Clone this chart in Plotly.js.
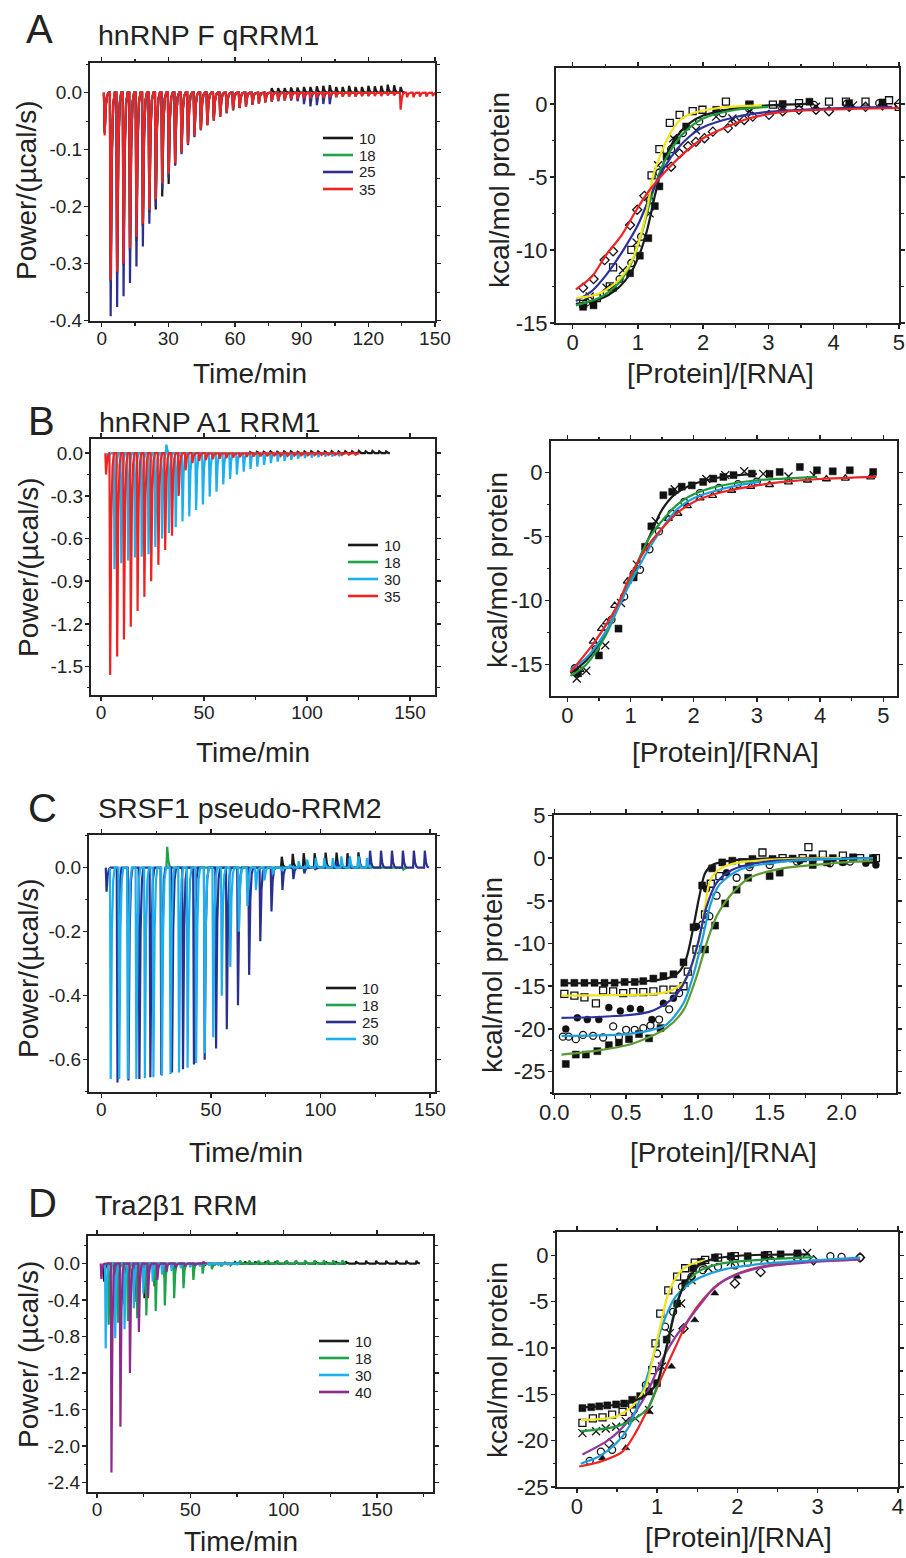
<!DOCTYPE html>
<html><head><meta charset="utf-8">
<script src="https://cdn.plot.ly/plotly-3.0.1.min.js"></script>
<style>html,body{margin:0;padding:0;background:#fff}</style>
</head><body><div id="chart" style="width:906px;height:1558px"></div>
<script>
// ================= DATA =================
// ---- Panel A (hnRNP F qRRM1) thermograms: injection times (min) and peak power (µcal/s)
const A_time = [1.0,3.7,6.6,9.5,12.4,15.3,18.2,21.1,24.0,26.9,29.8,32.7,35.6,38.5,41.4,44.3,47.2,50.1,53.0,55.9,58.8,61.7,64.6,67.5,70.4,73.3,76.2,79.1,82.0,84.9,87.8,90.7,93.6,96.5,99.4,102.3,105.2,108.1,111.0,113.9,116.8,119.7,122.6,125.5,128.4,131.3,134.2,137.1,140.0,142.9,145.8,148.7];
const A_p10 = [-0.07,-0.33,-0.315,-0.30,-0.275,-0.255,-0.232,-0.21,-0.205,-0.182,-0.160,-0.127,-0.104,-0.088,-0.074,-0.062,-0.052,-0.044,-0.037,-0.031,-0.026,-0.022,-0.018,-0.015,-0.012,-0.010,0.008,0.008,0.008,0.009,0.009,0.010,0.010,0.011,0.012,0.013,0.010,0.010,0.012,0.010,0.010,0.012,0.011,0.012,0.014,0.013,0.010];
const A_p18 = [-0.07,-0.33,-0.318,-0.303,-0.28,-0.26,-0.235,-0.21,-0.191,-0.165,-0.145,-0.125,-0.105,-0.09,-0.077,-0.066,-0.057,-0.049,-0.042,-0.036,-0.031,-0.027,-0.024,-0.021,-0.019,-0.017,-0.015,-0.014,-0.013,-0.012,-0.011,-0.010,-0.010,-0.009,-0.009,-0.008,-0.008,-0.007,-0.007,-0.007,-0.006,-0.006];
const A_p25 = [-0.07,-0.392,-0.376,-0.357,-0.334,-0.305,-0.270,-0.230,-0.200,-0.170,-0.150,-0.128,-0.108,-0.092,-0.078,-0.066,-0.057,-0.049,-0.042,-0.036,-0.031,-0.027,-0.024,-0.021,-0.019,-0.017,-0.016,-0.015,-0.014,-0.014,-0.015,-0.020,-0.024,-0.022,-0.020,-0.020];
const A_p35 = [-0.075,-0.329,-0.314,-0.300,-0.273,-0.253,-0.230,-0.206,-0.187,-0.159,-0.142,-0.124,-0.104,-0.090,-0.076,-0.065,-0.057,-0.049,-0.042,-0.036,-0.030,-0.027,-0.024,-0.021,-0.019,-0.017,-0.015,-0.014,-0.013,-0.012,-0.011,-0.010,-0.010,-0.009,-0.009,-0.008,-0.008,-0.007,-0.007,-0.007,-0.006,-0.006,-0.006,-0.006,-0.005,-0.005,-0.030,-0.008,-0.008,-0.007,-0.007,-0.006];
const A_names = ['10','18','25','35'];

// ---- Panel A binding isotherms
const Ar_sqOpen_x = [0.16,0.37,0.57,0.62,0.9,1.21,1.33,1.49,1.64,1.84,1.99,2.35,2.71,3.07,3.47,3.93,4.19,4.49,4.85,5.0];
const Ar_sqOpen_y = [-13.7,-13.3,-12.5,-11.2,-10.0,-4.9,-3.1,-1.3,-0.75,-0.5,-0.4,0.15,-0.05,-0.05,0.05,0.15,0.15,0.15,0.25,-0.2];
const Ar_sq_x = [0.16,0.32,0.62,0.88,1.03,1.16,1.26,1.33,1.44,1.59,1.74,2.2,2.71,3.22,3.63,4.24,4.75];
const Ar_sq_y = [-13.9,-13.8,-12.6,-11.6,-10.4,-9.2,-7.0,-5.65,-3.6,-2.5,-1.55,-0.4,-0.07,0,0.15,0.05,0.1];
const Ar_x_x = [0.26,0.52,0.77,0.98,1.18,1.31,1.54,1.89,2.2,2.45,2.71,3.22,3.73,4.3];
const Ar_x_y = [-13.2,-12.6,-11.4,-9.5,-7.5,-4.2,-2.35,-1.8,-0.87,-1.0,-0.5,-0.3,-0.2,-0.1];
const Ar_ci_x = [0.21,0.52,0.72,0.9,1.05,1.18,1.33,1.51,1.69,1.94,2.3,2.7,3.2,3.7,4.2,4.7];
const Ar_ci_y = [-13.6,-12.9,-12.0,-10.9,-9.1,-6.6,-4.7,-3.1,-2.0,-1.2,-0.64,-0.3,-0.2,-0.07,0,0.05];
const Ar_di_x = [0.16,0.32,0.49,0.62,0.88,0.99,1.10,1.51,1.64,1.77,1.89,2.02,2.15,2.38,2.5,2.63,2.76,3.01,3.22,3.47,3.73,3.93,4.24,4.49,4.75,5.0];
const Ar_di_y = [-12.6,-12.0,-10.7,-10.1,-8.3,-7.25,-6.3,-4.3,-3.4,-2.9,-2.6,-2.35,-1.9,-1.66,-1.2,-1.1,-0.87,-0.75,-0.5,-0.4,-0.4,-0.5,-0.2,-0.2,-0.1,0];
const Ar_fitRed_x = [0.05,0.3,0.52,0.75,0.98,1.18,1.49,1.75,2.0,2.35,2.7,3.22,4.0,5.0];
const Ar_fitRed_y = [-12.7,-11.8,-10.3,-9.0,-7.25,-5.9,-4.3,-3.2,-2.35,-1.6,-1.0,-0.55,-0.38,-0.28];
const Ar_fitYel_x = [0.05,0.4,0.7,0.9,1.05,1.15,1.23,1.31,1.39,1.5,1.6,1.75,2.0,2.4,2.9];
const Ar_fitYel_y = [-13.3,-13.0,-12.1,-10.8,-8.9,-7.0,-5.0,-3.9,-3.0,-2.0,-1.3,-0.8,-0.45,-0.2,-0.1];
const Ar_fitGrn_x = [0.05,0.4,0.7,0.9,1.05,1.2,1.35,1.5,1.7,2.0,2.5,3.0];
const Ar_fitGrn_y = [-13.8,-13.3,-12.3,-10.9,-9.0,-6.5,-4.5,-3.2,-2.0,-1.0,-0.4,-0.2];
const Ar_fitBlu_x = [0.05,0.3,0.5,0.75,1.0,1.2,1.4,1.6,1.8,2.0,2.5,3.0,4.0,4.9];
const Ar_fitBlu_y = [-13.5,-12.8,-11.8,-10.2,-8.3,-6.2,-4.4,-3.1,-2.2,-1.6,-0.9,-0.55,-0.3,-0.2];
const Ar_fitBlk_x = [0.05,0.4,0.7,0.9,1.05,1.15,1.25,1.35,1.45,1.6,1.8,2.0,2.5,3.0,3.6];
const Ar_fitBlk_y = [-13.7,-13.4,-12.6,-11.5,-10.0,-8.5,-6.5,-4.7,-3.4,-2.2,-1.3,-0.8,-0.3,-0.1,0];

// ---- Panel B (hnRNP A1 RRM1) thermograms
const B_time35 = [2.1,4.1,7.5,10.8,14.1,17.4,20.7,24.0,27.5,30.8,34.1,37.4,40.7,44.0,47.3,50.6,53.9,57.2,60.5,63.8,67.1,70.4,73.7,77.0,80.3,83.6,86.9,90.2,93.5,96.8,100.1,103.4,106.7,110.0,113.3,116.6,119.9,123.2];
const B_p35 = [-0.15,-1.56,-1.43,-1.31,-1.22,-1.11,-1.01,-0.90,-0.785,-0.68,-0.58,-0.30,-0.12,-0.07,-0.055,-0.048,-0.042,-0.038,-0.034,-0.031,-0.028,-0.026,-0.024,-0.022,-0.020,-0.019,-0.018,-0.017,-0.016,-0.015,-0.014,-0.013,-0.012,-0.012,-0.011,-0.011,-0.010,-0.010];
const B_time30 = [3.0,6.2,9.5,12.8,16.1,19.4,22.7,26.0,29.3,31.4,32.6,35.9,39.2,42.5,45.8,49.1,52.4,55.7,59.0,62.3,65.6,68.9,72.2,75.5,78.8,82.1,85.4,88.7,92.0,95.3,98.6,101.9,105.2,108.5,111.8,115.1];
const B_p30 = [-0.06,-0.815,-0.773,-0.755,-0.733,-0.727,-0.71,-0.66,-0.60,0.06,-0.56,-0.52,-0.48,-0.445,-0.40,-0.36,-0.305,-0.27,-0.22,-0.18,-0.15,-0.13,-0.11,-0.094,-0.082,-0.07,-0.059,-0.054,-0.047,-0.04,-0.035,-0.03,-0.028,-0.023,-0.021,-0.019];
const B_time10 = [72.0,75.3,78.6,81.9,85.2,88.5,91.8,95.1,98.4,101.7,105.0,108.3,111.6,114.9,118.2,121.5,124.8,128.1,131.4,134.7,138.0];
const B_p10 = [0.008,0.01,0.01,0.012,0.01,0.012,0.012,0.01,0.012,0.014,0.012,0.012,0.014,0.012,0.014,0.014,0.016,0.014,0.016,0.014,0.012];
const B_names = ['10','18','30','35'];

// ---- Panel B binding isotherms
const Br_sq_x = [0.17,0.5,0.81,1.05,1.23,1.33,1.52,1.66,1.81,1.97,2.15,2.31,2.47,2.63,2.92,3.2,3.36,3.68,3.95,4.2,4.47,4.84];
const Br_sq_y = [-15.7,-14.3,-12.2,-8.2,-5.8,-4.2,-1.77,-1.5,-1.1,-1.0,-0.73,-0.47,-0.34,-0.2,-0.08,-0.1,0.05,0.44,0.18,0.1,0.18,0.05];
const Br_tri_x = [0.2,0.41,0.54,0.62,0.75,0.95,1.6,1.75,1.9,2.1,2.3,2.6,2.9,3.2,3.5,3.8,4.1,4.4,4.8];
const Br_tri_y = [-15.4,-13.2,-12.2,-11.7,-10.4,-8.5,-3.6,-3.2,-2.6,-2.0,-1.8,-1.4,-1.1,-0.95,-0.75,-0.6,-0.5,-0.45,-0.35];
const Br_ci_x = [0.12,0.45,0.7,0.9,1.05,1.15,1.3,1.45,1.65,1.85,2.1,2.4,2.7,3.0];
const Br_ci_y = [-15.3,-13.8,-11.5,-9.7,-7.9,-7.6,-6.0,-4.6,-3.2,-2.3,-1.6,-1.2,-0.9,-0.7];
const Br_x_x = [0.15,0.3,0.6,0.85,1.1,1.4,1.7,2.2,2.5,2.8,3.1,3.5,3.9];
const Br_x_y = [-16.1,-15.5,-13.5,-10.2,-7.2,-3.8,-1.3,-0.5,-0.2,0.1,-0.1,-0.3,-0.2];
const Br_fitBlk_x = [0.05,0.3,0.6,0.9,1.1,1.3,1.5,1.7,1.9,2.2,2.6,3.0];
const Br_fitBlk_y = [-15.7,-14.7,-12.6,-9.4,-7.2,-5.0,-2.9,-1.7,-1.1,-0.6,-0.25,-0.1];
const Br_fitGrn_x = [0.05,0.3,0.6,0.99,1.31,1.73,2.0,2.36,3.0,3.42,3.95];
const Br_fitGrn_y = [-15.9,-15.0,-12.8,-8.4,-5.0,-2.55,-1.7,-1.1,-0.6,-0.47,-0.34];
const Br_fitCyn_x = [0.05,0.3,0.6,0.99,1.31,1.73,2.0,2.36,2.7,3.05];
const Br_fitCyn_y = [-15.4,-14.5,-12.5,-8.7,-5.8,-2.9,-2.0,-1.4,-1.0,-0.73];
const Br_fitRed_x = [0.05,0.41,0.78,0.99,1.31,1.73,2.0,2.36,3.0,3.42,4.0,4.89];
const Br_fitRed_y = [-15.6,-13.4,-10.5,-8.15,-5.5,-3.2,-2.3,-1.64,-1.0,-0.73,-0.5,-0.34];

// ---- Panel C (SRSF1 pseudo-RRM2) thermograms
const C_time25 = [2.0,7.0,12.0,17.0,22.0,27.0,31.9,36.9,41.9,46.8,52.0,56.9,62.0,67.1,72.2,77.3,82.3,87.3,92.3,97.3,102.3,107.3,112.3,117.3,122.3,127.3,132.3,137.3,142.3,147.3];
const C_p25 = [-0.075,-0.671,-0.665,-0.66,-0.655,-0.648,-0.64,-0.63,-0.615,-0.60,-0.565,-0.505,-0.43,-0.335,-0.23,-0.137,-0.07,-0.036,-0.018,-0.005,0.01,0.02,0.03,0.035,0.053,0.053,0.053,0.053,0.053,0.053];
const C_time30 = [3.9,7.8,11.7,15.6,19.5,23.4,27.3,31.2,35.1,39.0,42.9,46.8,50.7,54.6,58.5,62.4,66.3,70.2,74.1,78.0,81.9,85.8,89.7,93.6,97.5,101.4,105.3,109.2,113.1,117.0,120.9];
const C_p30 = [-0.66,-0.66,-0.66,-0.66,-0.658,-0.655,-0.65,-0.645,-0.64,-0.625,-0.61,-0.58,-0.53,-0.40,-0.31,-0.2,-0.12,-0.07,-0.04,-0.02,-0.01,0.01,0.02,0.025,0.03,0.03,0.03,0.035,0.035,0.035,0.03];
const C_time10 = [82.0,87.0,92.0,97.0,102.0,107.0,112.0,117.0];
const C_p10 = [0.034,0.043,0.045,0.045,0.047,0.047,0.045,0.048];
const C_time18 = [29.7,137.5];
const C_p18 = [0.065,-0.006];
const C_names = ['10','18','25','30'];

// ---- Panel C binding isotherms
const Cr_sqT_x = [0.07,0.14,0.21,0.28,0.35,0.42,0.49,0.56,0.62,0.69,0.76,0.83,0.90,0.97,1.03,1.10,1.17,1.24,1.38,1.52,1.66,1.80,1.94,2.08,2.22];
const Cr_sqT_y = [-14.6,-14.6,-14.6,-14.6,-14.6,-14.6,-14.5,-14.5,-14.4,-14.1,-13.8,-13.6,-12.2,-8.1,-3.2,-1.2,-0.5,-0.3,-0.1,-0.1,-0.05,0,0,0.1,0];
const Cr_sqO_x = [0.07,0.14,0.21,0.29,0.34,0.41,0.48,0.55,0.62,0.69,0.76,0.83,0.90,0.93,0.99,1.05,1.09,1.15,1.31,1.45,1.59,1.73,1.77,1.87,2.01,2.13,2.24];
const Cr_sqO_y = [-15.9,-16.1,-16.3,-17.0,-15.5,-15.6,-15.8,-15.7,-15.7,-15.6,-15.4,-15.4,-15.0,-13.3,-10.7,-6.6,-3.0,-2.1,-0.5,0.66,0,0,1.3,0.4,0.3,0,0];
const Cr_ciF_x = [0.08,0.16,0.23,0.31,0.38,0.46,0.53,0.60,0.68,0.76,0.83,0.99,1.06,1.20,1.36,1.50,1.71,2.01,2.17,2.24];
const Cr_ciF_y = [-20.0,-18.7,-18.9,-18.9,-17.5,-17.9,-17.6,-17.7,-18.9,-17.0,-16.4,-8.0,-3.6,-1.7,-0.8,-0.4,-0.3,-0.5,-0.6,-0.8];
const Cr_ciO_x = [0.06,0.10,0.15,0.20,0.27,0.34,0.41,0.45,0.50,0.56,0.62,0.67,0.73,0.80,0.87,1.03,1.08,1.13,1.27,1.36,1.50,1.69,1.92,2.06];
const Cr_ciO_y = [-20.9,-20.9,-21.2,-20.7,-20.8,-21.0,-19.7,-20.9,-20.1,-20.1,-19.9,-19.6,-18.9,-17.7,-15.8,-7.8,-6.8,-4.4,-2.3,-1.05,-0.8,-0.4,-0.6,-0.4];
const Cr_sqB_x = [0.08,0.15,0.22,0.30,0.38,0.45,0.52,0.59,0.66,0.74,1.05,1.12,1.19,1.27,1.35,1.50,1.57,1.80,1.90,2.01,2.22];
const Cr_sqB_y = [-24.1,-23.0,-23.0,-22.6,-21.9,-21.6,-21.2,-20.6,-21.1,-19.9,-10.7,-7.9,-5.3,-3.7,-2.3,-2.1,-1.7,-0.8,-0.5,-0.4,-0.2];
const Cr_fitBlk_x = [0.05,0.4,0.7,0.8,0.87,0.92,0.965,1.01,1.05,1.1,1.24,1.6,2.2];
const Cr_fitBlk_y = [-14.65,-14.6,-14.3,-14.0,-13.3,-11.7,-8.4,-4.5,-1.76,-0.8,-0.27,0,0];
const Cr_fitYel_x = [0.05,0.4,0.7,0.8,0.9,0.965,1.01,1.05,1.08,1.13,1.24,1.48,2.0];
const Cr_fitYel_y = [-16.1,-16.05,-15.9,-15.6,-14.5,-12.3,-9.6,-5.7,-2.9,-1.56,-0.66,-0.2,0];
const Cr_fitNav_x = [0.05,0.3,0.5,0.66,0.78,0.85,0.94,1.0,1.06,1.13,1.24,1.48,2.0];
const Cr_fitNav_y = [-18.7,-18.6,-18.4,-18.0,-17.0,-16.0,-13.3,-10.0,-5.7,-2.9,-1.37,-0.4,-0.1];
const Cr_fitCyn_x = [0.05,0.3,0.5,0.66,0.78,0.9,0.965,1.03,1.09,1.15,1.29,1.59,2.22];
const Cr_fitCyn_y = [-20.8,-20.75,-20.6,-20.2,-19.5,-17.0,-13.9,-9.6,-5.3,-3.1,-1.37,-0.4,0];
const Cr_fitOlv_x = [0.05,0.31,0.55,0.78,0.9,0.99,1.06,1.13,1.22,1.36,1.59,1.94,2.22];
const Cr_fitOlv_y = [-23.0,-22.5,-21.7,-19.9,-17.8,-13.9,-10.0,-6.8,-4.5,-2.3,-1.2,-0.6,-0.3];

// ---- Panel D (Tra2β1 RRM) thermograms
const D_time10 = [3.5,8.9,14.3,19.7,25.1,30.5,35.9,41.3,46.7,52.1,57.5,62.9,68.3,73.7,79.1,84.5,89.9,95.3,100.7,106.1,111.5,116.9,122.3,127.7,133.1,138.5,143.9,149.3,154.7,160.1,165.5,170.9];
const D_p10 = [-0.2,-0.45,-0.45,-0.42,-0.38,-0.25,-0.15,-0.09,-0.05,-0.03,-0.02,-0.01,0.01,0.015,0.02,0.02,0.02,0.02,0.02,0.02,0.02,0.02,0.02,0.025,0.025,0.025,0.03,0.03,0.03,0.03,0.03,0.03];
const D_time18 = [5.9,11.0,16.2,21.2,26.1,31.1,36.0,41.0,46.0,51.3,56.3,61.2,66.2,71.2,76.2,81.2,86.2,91.2,96.2,101.2,106.2,111.2,116.2,121.2,126.2,131.2];
const D_p18 = [-0.67,-0.65,-0.63,-0.60,-0.57,-0.52,-0.46,-0.38,-0.27,-0.18,-0.11,-0.06,-0.03,-0.02,0.03,0.03,0.03,0.035,0.035,0.035,0.035,0.035,0.035,0.035,0.035,0.035];
const D_time30 = [4.3,9.4,14.4,19.4,24.5,29.5,34.5,39.6,44.6,49.6,54.7,59.7,64.7,69.8,74.8];
const D_p30 = [-0.93,-0.82,-0.72,-0.49,-0.33,-0.2,-0.12,-0.08,-0.05,-0.04,-0.03,-0.02,-0.015,-0.01,-0.01];
const D_time40 = [2.0,7.4,12.2,17.3,22.1,27.0,32.0,36.9,41.9,46.8,51.8,56.7];
const D_p40 = [-0.17,-2.29,-1.79,-1.20,-0.75,-0.38,-0.18,-0.09,-0.05,-0.03,-0.02,0.02];
const D_names = ['10','18','30','40'];

// ---- Panel D binding isotherms
const Dr_sq_x = [0.07,0.18,0.28,0.38,0.49,0.59,0.69,0.79,0.9,1.0,1.12,1.25,1.35,1.45,1.55,1.72,1.92,2.13,2.34,2.54,2.75];
const Dr_sq_y = [-16.5,-16.4,-16.3,-16.2,-16.1,-16.0,-15.6,-15.2,-14.7,-13.8,-9.1,-5.2,-3.0,-1.4,-0.7,-0.25,-0.1,-0.1,0,0.1,0.2];
const Dr_sqO_x = [0.07,0.2,0.32,0.44,0.57,0.69,0.94,0.98,1.04,1.14,1.25,1.35,1.47,1.6,1.76,1.97,2.38];
const Dr_sqO_y = [-18.1,-17.6,-17.5,-17.2,-16.9,-16.1,-12.4,-9.5,-6.3,-3.8,-2.3,-1.4,-0.8,-0.5,-0.25,-0.1,0];
const Dr_x_x = [0.07,0.24,0.36,0.49,0.61,0.73,0.9,1.06,1.16,1.3,1.43,1.64,1.92,2.34,2.75,2.87];
const Dr_x_y = [-19.2,-19.0,-18.7,-18.5,-17.9,-17.6,-16.7,-12.0,-8.4,-5.2,-2.7,-1.4,-0.7,-0.36,-0.1,0.25];
const Dr_ci_x = [0.16,0.3,0.44,0.57,0.71,0.86,1.0,1.1,1.2,1.31,1.43,1.57,1.76,1.97,2.13,2.42,2.75,3.16,3.3,3.53];
const Dr_ci_y = [-22.2,-21.2,-21.0,-19.4,-16.7,-14.0,-10.6,-7.7,-6.1,-3.4,-2.3,-1.6,-1.25,-1.1,-0.8,-0.54,-0.29,-0.1,-0.18,-0.25];
const Dr_tri_x = [0.32,0.61,0.9,1.18,1.47,1.72,2.0];
const Dr_tri_y = [-21.9,-20.8,-16.9,-12.0,-7.0,-4.1,-2.3];
const Dr_di_x = [0.4,1.33,1.97,2.29,2.95,3.53];
const Dr_di_y = [-20.3,-7.9,-3.05,-1.8,-0.54,-0.25];
const Dr_fitBlk_x = [0.05,0.3,0.6,0.8,0.9,1.0,1.06,1.14,1.25,1.35,1.45,1.55,1.72,2.13,2.9];
const Dr_fitBlk_y = [-16.4,-16.3,-16.0,-15.4,-14.8,-13.8,-12.0,-9.1,-5.2,-3.0,-1.8,-0.9,-0.36,0,0.1];
const Dr_fitYel_x = [0.05,0.49,0.69,0.86,0.96,1.04,1.14,1.27,1.39,1.6];
const Dr_fitYel_y = [-17.8,-17.4,-16.3,-14.2,-10.6,-7.7,-4.1,-2.0,-1.1,-0.54];
const Dr_fitGrn_x = [0.05,0.49,0.73,0.9,1.02,1.14,1.23,1.35,1.55,1.8,2.54,2.95];
const Dr_fitGrn_y = [-19.0,-18.5,-17.6,-16.3,-13.5,-9.1,-5.6,-3.05,-1.6,-0.9,-0.36,-0.2];
const Dr_fitCyn_x = [0.05,0.28,0.49,0.65,0.81,0.94,1.06,1.23,1.47,1.8,2.34,2.95,3.53];
const Dr_fitCyn_y = [-22.5,-21.7,-20.3,-18.5,-14.9,-11.3,-7.7,-4.5,-2.7,-1.6,-0.9,-0.54,-0.25];
const Dr_fitPur_x = [0.07,0.4,0.65,0.86,1.06,1.23,1.39,1.55,1.72,1.97,2.34,2.95,3.53];
const Dr_fitPur_y = [-21.5,-19.9,-17.8,-15.1,-11.3,-8.8,-7.0,-5.2,-3.4,-2.15,-1.26,-0.72,-0.47];
const Dr_fitRed_x = [0.03,0.32,0.57,0.73,0.9,1.06,1.23,1.39,1.6,1.84,2.13,2.54,3.53];
const Dr_fitRed_y = [-22.8,-22.2,-21.2,-19.2,-16.3,-13.1,-9.9,-7.0,-4.5,-2.7,-1.6,-0.9,-0.43];

// ---- tick labels
const tA_x = [0,30,60,90,120,150];
const tA_y = [0,-0.1,-0.2,-0.3,-0.4];  const tA_yText = ['0.0','-0.1','-0.2','-0.3','-0.4'];
const tB_x = [0,50,100,150];
const tB_y = [0,-0.3,-0.6,-0.9,-1.2,-1.5]; const tB_yText = ['0.0','-0.3','-0.6','-0.9','-1.2','-1.5'];
const tC_y = [0,-0.2,-0.4,-0.6]; const tC_yText = ['0.0','-0.2','-0.4','-0.6'];
const tD_y = [0,-0.4,-0.8,-1.2,-1.6,-2.0,-2.4]; const tD_yText = ['0.0','-0.4','-0.8','-1.2','-1.6','-2.0','-2.4'];
const tR_x5 = [0,1,2,3,4,5];
const tR_y15 = [0,-5,-10,-15]; const tR_y15Text = ['0','-5','-10','-15'];
const tC_rx = [0,0.5,1,1.5,2]; const tC_rxText = ['0.0','0.5','1.0','1.5','2.0'];
const tC_ry = [5,0,-5,-10,-15,-20,-25]; const tC_ryText = ['5','0','-5','-10','-15','-20','-25'];
const tD_rx = [0,1,2,3,4];
const tD_ry = [0,-5,-10,-15,-20,-25]; const tD_ryText = ['0','-5','-10','-15','-20','-25'];

// ================= DRAWING =================
const W = 906, H = 1558;
const FONT = 'Liberation Sans, Arial, Helvetica, sans-serif';
const INK = '#222';
const COL = {k:'#1a1a1a', g:'#1ea34b', b:'#2b3090', r:'#ee2424', c:'#1cb0ec', p:'#8e2a8e',
             fy:'#efe51a', fg:'#1e9b3c', fb:'#2a30a0', fr:'#ee2424', fc:'#1d9fdc', fo:'#5d9a31', fp:'#8e3a9e'};

function xd(l, r) { return [l / W, r / W]; }
function yd(t, b) { return [1 - b / H, 1 - t / H]; }

function axis(domain, range, vals, text, minorD, size, anchor, isY) {
  return {
    domain, range, anchor, tickmode: 'array', tickvals: vals, ticktext: text || vals.map(String),
    showline: true, linewidth: 2, linecolor: INK, mirror: 'allticks',
    ticks: 'outside', ticklen: 4, tickwidth: 1.5, tickcolor: INK,
    ticklabelstandoff: isY ? -2 : -5, ticklabeloverflow: 'allow',
    minor: {dtick: minorD, tick0: 0, ticks: 'outside', ticklen: 2.5, tickwidth: 1.2, tickcolor: INK},
    showgrid: false, zeroline: false, fixedrange: true,
    tickfont: {family: FONT, size, color: INK}
  };
}

function thermo(t, p, color, xa, ya) {
  const x = [], y = [];
  for (let i = 0; i < t.length; i++) {
    x.push(t[i], t[i] + 0.35, t[i] + 0.9, t[i] + 1.5, t[i] + 2.2);
    y.push(0, p[i], p[i] * 0.3, p[i] * 0.06, 0);
  }
  return {type: 'scatter', mode: 'lines', x, y, xaxis: xa, yaxis: ya, showlegend: false,
          line: {color, width: 2.2}, hoverinfo: 'skip'};
}
function pts(x, y, symbol, xa, ya) {
  const open = symbol.indexOf('open') >= 0;
  return {type: 'scatter', mode: 'markers', x, y, xaxis: xa, yaxis: ya, showlegend: false, hoverinfo: 'skip',
          marker: {symbol, size: symbol.indexOf('x') === 0 ? 8 : 7, color: '#111',
                   line: {color: '#111', width: open ? 1.3 : 0.5}}};
}
function fit(x, y, color, xa, ya) {
  return {type: 'scatter', mode: 'lines', x, y, xaxis: xa, yaxis: ya, showlegend: false, hoverinfo: 'skip',
          line: {color, width: 2.2, shape: 'spline', smoothing: 0.8}};
}

const traces = [
  // A left
  thermo(A_time.slice(0, A_p10.length), A_p10, COL.k, 'x', 'y'),
  thermo(A_time.slice(0, A_p18.length), A_p18, COL.g, 'x', 'y'),
  thermo(A_time.slice(0, A_p25.length), A_p25, COL.b, 'x', 'y'),
  thermo(A_time.slice(0, A_p35.length), A_p35, COL.r, 'x', 'y'),
  // A right
  pts(Ar_di_x, Ar_di_y, 'diamond-open', 'x2', 'y2'),
  pts(Ar_ci_x, Ar_ci_y, 'circle-open', 'x2', 'y2'),
  pts(Ar_x_x, Ar_x_y, 'x-thin-open', 'x2', 'y2'),
  pts(Ar_sq_x, Ar_sq_y, 'square', 'x2', 'y2'),
  pts(Ar_sqOpen_x, Ar_sqOpen_y, 'square-open', 'x2', 'y2'),
  fit(Ar_fitBlk_x, Ar_fitBlk_y, COL.k, 'x2', 'y2'),
  fit(Ar_fitGrn_x, Ar_fitGrn_y, COL.fg, 'x2', 'y2'),
  fit(Ar_fitBlu_x, Ar_fitBlu_y, COL.fb, 'x2', 'y2'),
  fit(Ar_fitYel_x, Ar_fitYel_y, COL.fy, 'x2', 'y2'),
  fit(Ar_fitRed_x, Ar_fitRed_y, COL.fr, 'x2', 'y2'),
  // B left
  thermo(B_time10, B_p10, COL.k, 'x3', 'y3'),
  thermo(B_time30, B_p30, COL.c, 'x3', 'y3'),
  thermo(B_time35, B_p35, COL.r, 'x3', 'y3'),
  // B right
  pts(Br_tri_x, Br_tri_y, 'triangle-up-open', 'x4', 'y4'),
  pts(Br_ci_x, Br_ci_y, 'circle-open', 'x4', 'y4'),
  pts(Br_x_x, Br_x_y, 'x-thin-open', 'x4', 'y4'),
  pts(Br_sq_x, Br_sq_y, 'square', 'x4', 'y4'),
  fit(Br_fitBlk_x, Br_fitBlk_y, COL.k, 'x4', 'y4'),
  fit(Br_fitGrn_x, Br_fitGrn_y, COL.fg, 'x4', 'y4'),
  fit(Br_fitCyn_x, Br_fitCyn_y, COL.fc, 'x4', 'y4'),
  fit(Br_fitRed_x, Br_fitRed_y, COL.fr, 'x4', 'y4'),
  // C left
  thermo(C_time10, C_p10, COL.k, 'x5', 'y5'),
  thermo(C_time18, C_p18, COL.g, 'x5', 'y5'),
  thermo(C_time25, C_p25, COL.b, 'x5', 'y5'),
  thermo(C_time30, C_p30, COL.c, 'x5', 'y5'),
  // C right
  pts(Cr_sqT_x, Cr_sqT_y, 'square', 'x6', 'y6'),
  pts(Cr_sqO_x, Cr_sqO_y, 'square-open', 'x6', 'y6'),
  pts(Cr_ciF_x, Cr_ciF_y, 'circle', 'x6', 'y6'),
  pts(Cr_ciO_x, Cr_ciO_y, 'circle-open', 'x6', 'y6'),
  pts(Cr_sqB_x, Cr_sqB_y, 'square', 'x6', 'y6'),
  fit(Cr_fitBlk_x, Cr_fitBlk_y, COL.k, 'x6', 'y6'),
  fit(Cr_fitYel_x, Cr_fitYel_y, COL.fy, 'x6', 'y6'),
  fit(Cr_fitNav_x, Cr_fitNav_y, COL.fb, 'x6', 'y6'),
  fit(Cr_fitCyn_x, Cr_fitCyn_y, COL.fc, 'x6', 'y6'),
  fit(Cr_fitOlv_x, Cr_fitOlv_y, COL.fo, 'x6', 'y6'),
  // D left
  thermo(D_time10, D_p10, COL.k, 'x7', 'y7'),
  thermo(D_time18, D_p18, COL.g, 'x7', 'y7'),
  thermo(D_time30, D_p30, COL.c, 'x7', 'y7'),
  thermo(D_time40, D_p40, COL.p, 'x7', 'y7'),
  // D right
  pts(Dr_sq_x, Dr_sq_y, 'square', 'x8', 'y8'),
  pts(Dr_sqO_x, Dr_sqO_y, 'square-open', 'x8', 'y8'),
  pts(Dr_x_x, Dr_x_y, 'x-thin-open', 'x8', 'y8'),
  pts(Dr_ci_x, Dr_ci_y, 'circle-open', 'x8', 'y8'),
  pts(Dr_tri_x, Dr_tri_y, 'triangle-up', 'x8', 'y8'),
  pts(Dr_di_x, Dr_di_y, 'diamond-open', 'x8', 'y8'),
  fit(Dr_fitRed_x, Dr_fitRed_y, COL.fr, 'x8', 'y8'),
  fit(Dr_fitPur_x, Dr_fitPur_y, COL.fp, 'x8', 'y8'),
  fit(Dr_fitCyn_x, Dr_fitCyn_y, COL.fc, 'x8', 'y8'),
  fit(Dr_fitGrn_x, Dr_fitGrn_y, COL.fg, 'x8', 'y8'),
  fit(Dr_fitYel_x, Dr_fitYel_y, COL.fy, 'x8', 'y8'),
  fit(Dr_fitBlk_x, Dr_fitBlk_y, COL.k, 'x8', 'y8')
];

const LS = 19, RS = 22;
function ann(text, xpx, ypx, size, angle, anchor) {
  return {text, x: xpx / W, y: 1 - ypx / H, xref: 'paper', yref: 'paper', showarrow: false,
          xanchor: anchor || 'center', yanchor: 'middle', textangle: angle || 0,
          font: {family: FONT, size, color: INK}};
}

// temperature legends (line sample + label), one per thermogram panel
const shapes = [], legendAnns = [];
function legendBlock(names, colors, xLine, yFirst, step) {
  names.forEach((nm, i) => {
    const yy = 1 - (yFirst + i * step) / H;
    shapes.push({type: 'line', xref: 'paper', yref: 'paper', x0: xLine / W, x1: (xLine + 30) / W, y0: yy, y1: yy,
                 line: {color: colors[i], width: 2.6}});
    legendAnns.push({text: nm, x: (xLine + 35) / W, y: yy, xref: 'paper', yref: 'paper', showarrow: false,
                     xanchor: 'left', yanchor: 'middle', borderpad: 0,
                     font: {family: FONT, size: 15, color: INK}});
  });
}
legendBlock(A_names, [COL.k, COL.g, COL.b, COL.r], 323, 138, 17);
legendBlock(B_names, [COL.k, COL.g, COL.c, COL.r], 348, 545, 17);
legendBlock(C_names, [COL.k, COL.g, COL.b, COL.c], 326, 988, 17);
legendBlock(D_names, [COL.k, COL.g, COL.c, COL.p], 319, 1341, 17);

const layout = {
  width: W, height: H, margin: {l: 0, r: 0, t: 0, b: 0},
  paper_bgcolor: '#fff', plot_bgcolor: 'rgba(0,0,0,0)', showlegend: false,
  font: {family: FONT, color: INK},
  xaxis:  axis(xd(90, 435),   [-5.25, 150.02], tA_x, null, 15, LS, 'y'),
  yaxis:  axis(yd(63, 321),   [-0.4005, 0.052], tA_y, tA_yText, 0.05, LS, 'x', true),
  xaxis2: axis(xd(556, 899),  [-0.255, 5.003], tR_x5, null, 0.5, RS, 'y2'),
  yaxis2: axis(yd(68, 323),   [-15.01, 2.46],  tR_y15, tR_y15Text, 2.5, RS, 'x2', true),
  xaxis3: axis(xd(91, 435),   [-4.85, 162.1], tB_x, null, 25, LS, 'y3'),
  yaxis3: axis(yd(439, 695),  [-1.70, 0.10],  tB_y, tB_yText, 0.15, LS, 'x3', true),
  xaxis4: axis(xd(551, 897),  [-0.258, 5.217], tR_x5, null, 0.5, RS, 'y4'),
  yaxis4: axis(yd(441, 696),  [-17.47, 2.47], tR_y15, tR_y15Text, 2.5, RS, 'x4', true),
  xaxis5: axis(xd(89, 435),   [-5.66, 152.3], tB_x, null, 25, LS, 'y5'),
  yaxis5: axis(yd(835, 1092), [-0.701, 0.102], tC_y, tC_yText, 0.1, LS, 'x5', true),
  xaxis6: axis(xd(554, 896),  [-0.002, 2.38], tC_rx, tC_rxText, 0.25, RS, 'y6'),
  yaxis6: axis(yd(815, 1093), [-27.5, 5.05],  tC_ry, tC_ryText, 2.5, RS, 'x6', true),
  xaxis7: axis(xd(88, 433),   [-4.83, 180.1], tB_x, null, 25, LS, 'y7'),
  yaxis7: axis(yd(1236, 1492), [-2.505, 0.302], tD_y, tD_yText, 0.2, LS, 'x7', true),
  xaxis8: axis(xd(557, 898),  [-0.247, 4.003], tD_rx, null, 0.5, RS, 'y8'),
  yaxis8: axis(yd(1232, 1487), [-25.01, 2.51], tD_ry, tD_ryText, 2.5, RS, 'x8', true),
  shapes,
  annotations: [
    ann('A', 24, 29, 40, 0, 'left'),  ann('hnRNP F qRRM1', 96, 35, 28.5, 0, 'left'),
    ann('B', 26, 421, 40, 0, 'left'), ann('hnRNP A1 RRM1', 97, 422, 28.5, 0, 'left'),
    ann('C', 26, 808, 40, 0, 'left'), ann('SRSF1 pseudo-RRM2', 96, 808, 28.5, 0, 'left'),
    ann('D', 26, 1203, 40, 0, 'left'), ann('Tra2β1 RRM', 93, 1205, 28.5, 0, 'left'),
    ann('Power/(µcal/s)', 26, 190, 28, -90), ann('Time/min', 250, 373, 28),
    ann('kcal/mol protein', 499, 190, 28, -90), ann('[Protein]/[RNA]', 720, 373, 28),
    ann('Power/(µcal/s)', 28, 567, 28, -90), ann('Time/min', 253, 752, 28),
    ann('kcal/mol protein', 497, 570, 28, -90), ann('[Protein]/[RNA]', 725, 752, 28),
    ann('Power/(µcal/s)', 28, 968, 28, -90), ann('Time/min', 246, 1152, 28),
    ann('kcal/mol protein', 492, 975, 28, -90), ann('[Protein]/[RNA]', 723, 1152, 28),
    ann('Power/ (µcal/s)', 28, 1355, 28, -90), ann('Time/min', 241, 1541, 28),
    ann('kcal/mol protein', 497, 1360, 28, -90), ann('[Protein]/[RNA]', 738, 1537, 28)
  ].concat(legendAnns)
};

Plotly.newPlot('chart', traces, layout, {staticPlot: true, displayModeBar: false});
</script>
</body></html>
